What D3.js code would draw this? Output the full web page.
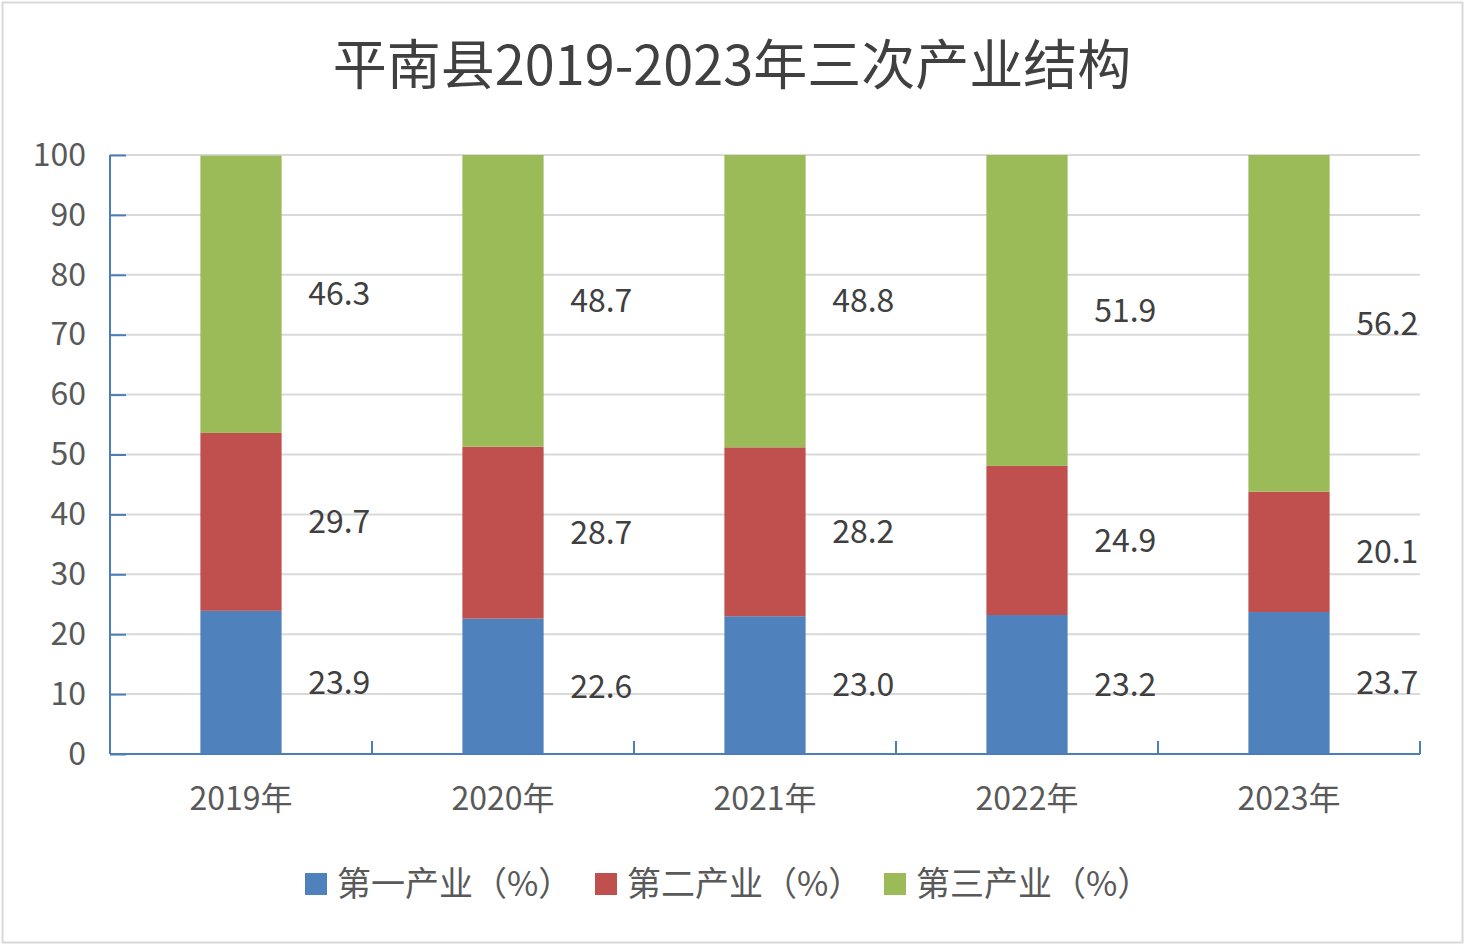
<!DOCTYPE html>
<html>
<head>
<meta charset="utf-8">
<script src="https://cdn.jsdelivr.net/npm/d3@7"></script>
<style>
  body { margin: 0; background: #fff; }
  text { font-family: "Noto Sans CJK SC", "Noto Sans", sans-serif; }
</style>
</head>
<body>
<div id="chart"></div>
<script>
// data
var years = ["2019年", "2020年", "2021年", "2022年", "2023年"];
var seriesNames = ["第一产业（%）", "第二产业（%）", "第三产业（%）"];
var primary = [23.9, 22.6, 23.0, 23.2, 23.7];
var secondary = [29.7, 28.7, 28.2, 24.9, 20.1];
var tertiary = [46.3, 48.7, 48.8, 51.9, 56.2];
var yTicks = [0, 10, 20, 30, 40, 50, 60, 70, 80, 90, 100];
var colors = ["#4f81bd", "#c0504d", "#9bbb59"];

var width = 1470, height = 948;
var margin = {top: 155, right: 50, bottom: 194, left: 110};

var svg = d3.select("#chart").append("svg")
  .attr("width", width)
  .attr("height", height);

// outer frame
svg.append("rect")
  .attr("x", 2.5).attr("y", 2.5)
  .attr("width", 1460).attr("height", 940)
  .attr("fill", "#fff")
  .attr("stroke", "#d9d9d9")
  .attr("stroke-width", 2);

// title
svg.append("text")
  .attr("x", 732)
  .attr("y", 85)
  .attr("text-anchor", "middle")
  .style("font-size", "54px")
  .style("fill", "#404040")
  .text("平南县2019-2023年三次产业结构");

var x = d3.scaleBand()
  .domain(years)
  .range([margin.left, width - margin.right])
  .paddingInner(0)
  .paddingOuter(0);

var y = d3.scaleLinear()
  .domain([0, 100])
  .range([height - margin.bottom, margin.top]);

// build stacked rows from the arrays
var rows = years.map(function(yr, i) {
  return {year: yr, s0: primary[i], s1: secondary[i], s2: tertiary[i]};
});
var stack = d3.stack().keys(["s0", "s1", "s2"]);
var layers = stack(rows);

// gridlines
svg.append("g")
  .selectAll("line")
  .data(yTicks.filter(function(d) { return d > 0; }))
  .enter().append("line")
  .attr("x1", margin.left)
  .attr("x2", width - margin.right)
  .attr("y1", function(d) { return y(d); })
  .attr("y2", function(d) { return y(d); })
  .attr("stroke", "#d9d9d9")
  .attr("stroke-width", 2);

var barW = x.bandwidth() * 0.31;

var layer = svg.append("g").selectAll("g")
  .data(layers)
  .enter().append("g")
  .attr("fill", function(d, i) { return colors[i]; });

layer.selectAll("rect")
  .data(function(d) { return d; })
  .enter().append("rect")
  .attr("x", function(d) { return x(d.data.year) + (x.bandwidth() - barW) / 2; })
  .attr("width", barW)
  .attr("y", function(d) { return y(Math.min(d[1], 100)); })
  .attr("height", function(d) { return y(d[0]) - y(Math.min(d[1], 100)); });

// value labels to the right of each segment
layer.selectAll("text")
  .data(function(d) { return d.map(function(p) { return {p: p, key: d.key}; }); })
  .enter().append("text")
  .attr("x", function(d) { return x(d.p.data.year) + x.bandwidth() * 0.875; })
  .attr("y", function(d) { return y((d.p[0] + Math.min(d.p[1], 100)) / 2); })
  .attr("dy", "0.35em")
  .attr("text-anchor", "middle")
  .style("font-size", "32px")
  .style("fill", "#404040")
  .text(function(d) { return d3.format(".1f")(d.p.data[d.key]); });

// y axis
var yAxis = svg.append("g")
  .attr("transform", "translate(" + margin.left + ",0)")
  .call(d3.axisLeft(y).tickValues(yTicks).tickSize(-16).tickPadding(40));
yAxis.selectAll("path, line").attr("stroke", "#4a7ebb").attr("stroke-width", 2);
yAxis.select(".domain").attr("d", "M0," + y(100) + "V" + y(0));
yAxis.selectAll("text")
  .attr("x", -24)
  .style("font-size", "32px")
  .style("font-family", "'Noto Sans CJK SC', sans-serif")
  .style("fill", "#595959");

// x axis with ticks at category boundaries
var xAxisG = svg.append("g")
  .attr("transform", "translate(0," + y(0) + ")");
xAxisG.append("line")
  .attr("x1", margin.left).attr("x2", width - margin.right)
  .attr("stroke", "#4a7ebb").attr("stroke-width", 2);
xAxisG.selectAll(".bt")
  .data(years)
  .enter().append("line")
  .attr("class", "bt")
  .attr("x1", function(d) { return x(d) + x.bandwidth(); })
  .attr("x2", function(d) { return x(d) + x.bandwidth(); })
  .attr("y1", 0).attr("y2", -13)
  .attr("stroke", "#4a7ebb").attr("stroke-width", 2);
xAxisG.selectAll(".xl")
  .data(years)
  .enter().append("text")
  .attr("class", "xl")
  .attr("x", function(d) { return x(d) + x.bandwidth() / 2; })
  .attr("y", 56)
  .attr("text-anchor", "middle")
  .style("font-size", "32px")
  .style("fill", "#595959")
  .text(function(d) { return d; });

// legend
var legendX = [305, 595, 884];
var legend = svg.append("g").selectAll("g")
  .data(seriesNames)
  .enter().append("g")
  .attr("transform", function(d, i) { return "translate(" + legendX[i] + ",873)"; });
legend.append("rect")
  .attr("width", 22).attr("height", 22)
  .attr("fill", function(d, i) { return colors[i]; });
legend.append("text")
  .attr("x", 32)
  .attr("y", 11)
  .attr("dy", "0.36em")
  .style("font-size", "34px")
  .style("fill", "#595959")
  .text(function(d) { return d; });
</script>
</body>
</html>
